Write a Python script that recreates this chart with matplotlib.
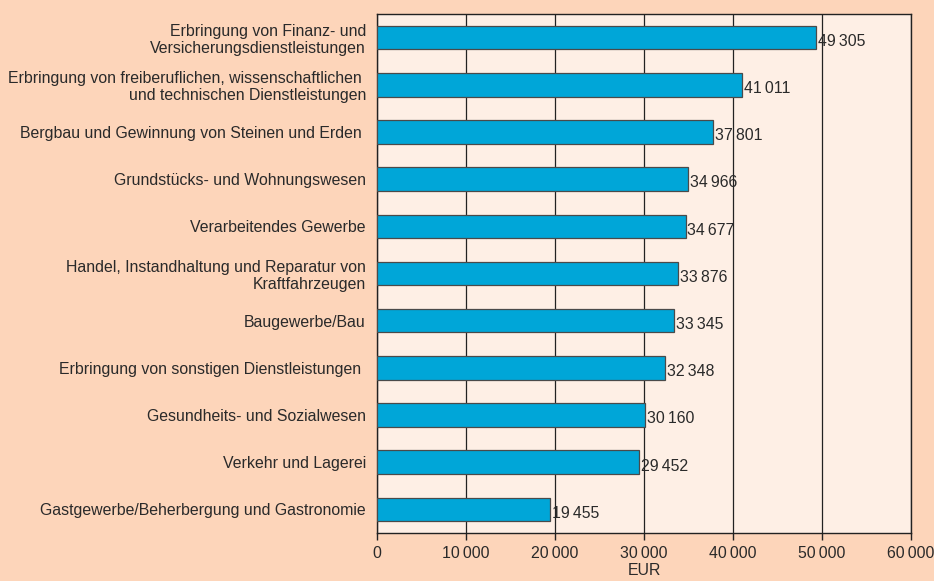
import matplotlib
matplotlib.use("Agg")
import matplotlib.pyplot as plt
from matplotlib.ticker import FuncFormatter

plt.rcParams['font.family'] = ['Liberation Sans', 'DejaVu Sans']

categories = [
    "Erbringung von Finanz- und\nVersicherungsdienstleistungen",
    "Erbringung von freiberuflichen, wissenschaftlichen \nund technischen Dienstleistungen",
    "Bergbau und Gewinnung von Steinen und Erden ",
    "Grundstücks- und Wohnungswesen",
    "Verarbeitendes Gewerbe",
    "Handel, Instandhaltung und Reparatur von\nKraftfahrzeugen",
    "Baugewerbe/Bau",
    "Erbringung von sonstigen Dienstleistungen ",
    "Gesundheits- und Sozialwesen",
    "Verkehr und Lagerei",
    "Gastgewerbe/Beherbergung und Gastronomie",
]
values = [49305, 41011, 37801, 34966, 34677, 33876, 33345, 32348, 30160, 29452, 19455]
xticks = [0, 10000, 20000, 30000, 40000, 50000, 60000]

FS = 11.4
TXT = "#2a2a2a"


def fmt(v):
    s = f"{int(v):,}"
    return s.replace(",", "\u2009")


fig = plt.figure(figsize=(9.34, 5.81), dpi=100, facecolor="#FDD5BA")
ax = fig.add_axes([377 / 934, 1 - 533 / 581, (911 - 377) / 934, (533 - 14) / 581])
ax.set_facecolor("#FEEFE5")

pos = list(range(len(categories)))
ax.barh(pos, values, height=0.5, color="#00A6D8", edgecolor="#4a4a4a",
        linewidth=0.9, zorder=3)
for p, v in zip(pos, values):
    ax.text(v + 200, p + 0.08, fmt(v), va="center", ha="left",
            fontsize=FS, color=TXT, zorder=4)

ax.set_ylim(len(categories) - 0.5, -0.5)
ax.set_xlim(0, 60000)
ax.set_yticks(pos)
ax.set_yticklabels(categories, fontsize=FS, color=TXT, linespacing=1.15)
ax.tick_params(axis="y", length=0, pad=8)
ax.set_xticks(xticks)
ax.xaxis.set_major_formatter(FuncFormatter(lambda v, _: fmt(v)))
ax.tick_params(axis="x", direction="out", length=5, width=1, color="#222222",
               labelsize=FS, labelcolor=TXT, pad=4)
ax.grid(axis="x", color="#222222", linewidth=0.9, zorder=1)
for s in ax.spines.values():
    s.set_color("#222222")
    s.set_linewidth(1)
ax.set_xlabel("EUR", fontsize=FS, color=TXT, labelpad=2)

fig.savefig("out.png", dpi=100, facecolor=fig.get_facecolor())
